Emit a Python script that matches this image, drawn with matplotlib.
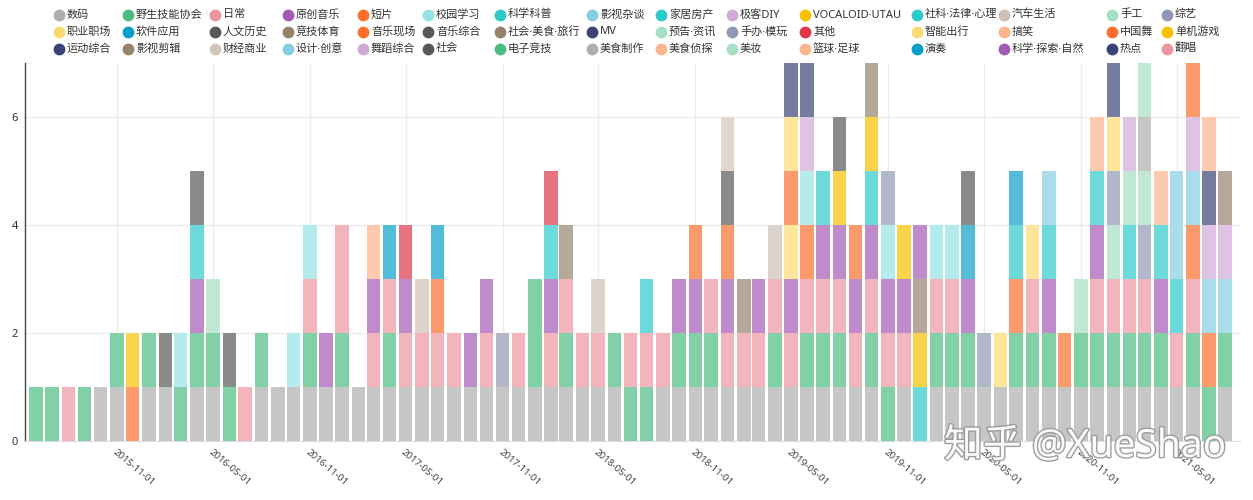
import matplotlib
matplotlib.use('Agg')
import matplotlib.pyplot as plt
import matplotlib.dates as mdates
import matplotlib.colors as mcolors
import matplotlib.patheffects as pe
from matplotlib.lines import Line2D
import numpy as np
import pandas as pd

plt.rcParams['font.family'] = ['Noto Sans', 'Noto Sans CJK SC', 'DejaVu Sans']

# ---------------- data ----------------
categories = [
    '数码', '野生技能协会', '日常', '原创音乐', '短片', '校园学习', '科学科普', '影视杂谈',
    '家居房产', '极客DIY', 'VOCALOID·UTAU', '社科·法律·心理', '汽车生活', '手工', '综艺',
    '职业职场', '软件应用', '人文历史', '竞技体育', '音乐现场', '音乐综合', '社会·美食·旅行',
    'MV', '预告·资讯', '手办·模玩', '其他', '智能出行', '搞笑', '中国舞', '单机游戏',
    '运动综合', '影视剪辑', '财经商业', '设计·创意', '舞蹈综合', '社会', '电子竞技',
    '美食制作', '美食侦探', '美妆', '篮球·足球', '演奏', '科学·探索·自然', '热点', '翻唱',
]

legend_colors = [
    '#aeaeae', '#4cbd80', '#ec959f', '#a459b5', '#fc6f2d', '#94e2e4', '#2ccac9', '#87cde1',
    '#2ccac9', '#d1a9d7', '#fbc000', '#2ccac9', '#cdc0b6', '#a5dec3', '#9198b6',
    '#fcda72', '#099fc7', '#585858', '#97836c', '#fc6f2d', '#585858', '#97836c',
    '#3b4277', '#a5dec3', '#9198b6', '#de3749', '#fcda72', '#fcb38e', '#fc6f2d', '#fbc000',
    '#3b4277', '#97836c', '#d2c6bc', '#87cde1', '#d1a9d7', '#585858', '#4cbd80',
    '#aeaeae', '#fcb38e', '#a5dec3', '#fcb38e', '#099fc7', '#a459b5', '#3b4277', '#ec959f',
]

months = pd.date_range('2015-06-01', '2021-08-01', freq='MS')

# items per month, bottom to top
stacks = [
    ['野生技能协会'],
    ['野生技能协会'],
    ['日常'],
    ['野生技能协会'],
    ['数码'],
    ['数码', '野生技能协会'],
    ['短片', 'VOCALOID·UTAU'],
    ['数码', '野生技能协会'],
    ['数码', '人文历史'],
    ['野生技能协会', '校园学习'],
    ['数码', '野生技能协会', '原创音乐', '科学科普', '人文历史'],
    ['数码', '野生技能协会', '手工'],
    ['野生技能协会', '人文历史'],
    ['日常'],
    ['数码', '野生技能协会'],
    ['数码'],
    ['数码', '校园学习'],
    ['数码', '野生技能协会', '日常', '校园学习'],
    ['数码', '原创音乐'],
    ['数码', '野生技能协会', '日常', '日常'],
    ['数码'],
    ['数码', '日常', '原创音乐', '搞笑'],
    ['数码', '野生技能协会', '日常', '软件应用'],
    ['数码', '日常', '原创音乐', '其他'],
    ['数码', '日常', '汽车生活'],
    ['数码', '日常', '短片', '软件应用'],
    ['数码', '日常'],
    ['数码', '原创音乐'],
    ['数码', '日常', '原创音乐'],
    ['数码', '综艺'],
    ['数码', '日常'],
    ['数码', '野生技能协会', '野生技能协会'],
    ['数码', '日常', '原创音乐', '科学科普', '其他'],
    ['数码', '野生技能协会', '日常', '竞技体育'],
    ['数码', '日常'],
    ['数码', '日常', '汽车生活'],
    ['数码', '野生技能协会'],
    ['野生技能协会', '日常'],
    ['野生技能协会', '日常', '科学科普'],
    ['数码', '日常'],
    ['数码', '野生技能协会', '原创音乐'],
    ['数码', '野生技能协会', '原创音乐', '短片'],
    ['数码', '野生技能协会', '日常'],
    ['数码', '日常', '原创音乐', '短片', '人文历史', '财经商业'],
    ['数码', '日常', '竞技体育'],
    ['数码', '日常', '原创音乐'],
    ['数码', '野生技能协会', '日常', '汽车生活'],
    ['数码', '日常', '原创音乐', '职业职场', '音乐现场', '智能出行', '热点'],
    ['数码', '野生技能协会', '日常', '短片', '校园学习', '极客DIY', '热点'],
    ['数码', '野生技能协会', '日常', '原创音乐', '科学科普'],
    ['数码', '野生技能协会', '日常', '原创音乐', 'VOCALOID·UTAU', '人文历史'],
    ['数码', '日常', '原创音乐', '短片'],
    ['数码', '野生技能协会', '日常', '原创音乐', '科学科普', 'VOCALOID·UTAU', '竞技体育'],
    ['野生技能协会', '日常', '原创音乐', '校园学习', '综艺'],
    ['数码', '日常', '原创音乐', 'VOCALOID·UTAU'],
    ['科学科普', 'VOCALOID·UTAU', '竞技体育', '科学·探索·自然'],
    ['数码', '野生技能协会', '日常', '校园学习'],
    ['数码', '野生技能协会', '日常', '校园学习'],
    ['数码', '野生技能协会', '原创音乐', '软件应用', '人文历史'],
    ['数码', '综艺'],
    ['数码', '职业职场'],
    ['数码', '野生技能协会', '短片', '科学科普', '软件应用'],
    ['数码', '野生技能协会', '日常', '职业职场'],
    ['数码', '野生技能协会', '原创音乐', '科学科普', '影视杂谈'],
    ['数码', '短片'],
    ['数码', '野生技能协会', '手工'],
    ['数码', '野生技能协会', '日常', '原创音乐', '科学科普', '搞笑'],
    ['数码', '野生技能协会', '日常', '手工', '综艺', '职业职场', '热点'],
    ['数码', '野生技能协会', '日常', '科学科普', '手工', '舞蹈综合'],
    ['数码', '野生技能协会', '日常', '综艺', '预告·资讯', '美食制作', '美妆'],
    ['数码', '野生技能协会', '原创音乐', '科学科普', '搞笑'],
    ['数码', '日常', '科学科普', '影视杂谈', '影视杂谈'],
    ['数码', '野生技能协会', '日常', '短片', '影视杂谈', '极客DIY', '音乐现场'],
    ['野生技能协会', '短片', '影视杂谈', '极客DIY', 'MV', '搞笑'],
    ['数码', '野生技能协会', '影视杂谈', '极客DIY', '竞技体育'],
]

tick_dates = ['2015-11-01', '2016-05-01', '2016-11-01', '2017-05-01', '2017-11-01',
              '2018-05-01', '2018-11-01', '2019-05-01', '2019-11-01', '2020-05-01',
              '2020-11-01', '2021-05-01']
y_ticks = [0, 2, 4, 6]

# ---------------- build counts ----------------
idx = {c: i for i, c in enumerate(categories)}
counts = np.zeros((len(categories), len(months)))
for j, s in enumerate(stacks):
    for name in s:
        counts[idx[name], j] += 1


def lighten(c, a=0.7):
    r, g, b = mcolors.to_rgb(c)
    return (a * r + (1 - a), a * g + (1 - a), a * b + (1 - a))


# ---------------- figure ----------------
W, H = 1253, 500
fig = plt.figure(figsize=(W / 100, H / 100), dpi=100)
ax = fig.add_axes([25 / W, 59 / H, 1215 / W, 378 / H])

x = mdates.date2num(months.to_pydatetime())
bottom = np.zeros(len(months))
for i, c in enumerate(categories):
    if counts[i].any():
        ax.bar(x, counts[i], width=25.5, bottom=bottom, color=lighten(legend_colors[i]),
               linewidth=0, zorder=3)
        bottom += counts[i]

ax.set_ylim(0, 7)
ax.set_xlim(x[0] - 21, x[-1] + 28)
ax.set_yticks(y_ticks)
ax.set_yticklabels([str(v) for v in y_ticks], fontsize=8, color='#333333')
tx = mdates.date2num(pd.to_datetime(tick_dates).to_pydatetime())
ax.set_xticks(tx)
ax.set_xticklabels(tick_dates, fontsize=7, color='#444444', rotation=-40,
                   ha='left', va='top', rotation_mode='anchor')
ax.tick_params(axis='x', length=0, pad=5)
ax.tick_params(axis='y', length=0, pad=5)
ax.grid(True, color='#ececec', linewidth=1, zorder=0)
for s in ['top', 'right']:
    ax.spines[s].set_visible(False)
ax.spines['left'].set_color('#444444')
ax.spines['left'].set_linewidth(1)
ax.spines['bottom'].set_color('#dddddd')

# legend: 3 rows x 15 columns, filled row by row
col_x = [59, 128, 215, 288, 363, 428, 500, 592, 661, 732, 805, 917, 1004, 1112, 1167]
row_y = [15, 32, 49]
ncol = len(col_x)
for k, (name, col) in enumerate(zip(categories, legend_colors)):
    r, cc = divmod(k, ncol)
    fx, fy = col_x[cc] / W, 1 - row_y[r] / H
    fig.add_artist(Line2D([fx], [fy], marker='o', linestyle='', markersize=7.5,
                          markerfacecolor=col, markeredgecolor=col,
                          transform=fig.transFigure))
    fig.text(fx + 8 / W, fy, name, fontsize=8, color='#333333', ha='left', va='center')

# watermark
fig.text(1085 / W, 1 - 447 / H, '知乎 @XueShao', fontsize=28, color='white',
         ha='center', va='center', alpha=0.95,
         path_effects=[pe.withStroke(linewidth=2, foreground='#9a9a9a')], zorder=10)

fig.savefig('out.png', dpi=100)
